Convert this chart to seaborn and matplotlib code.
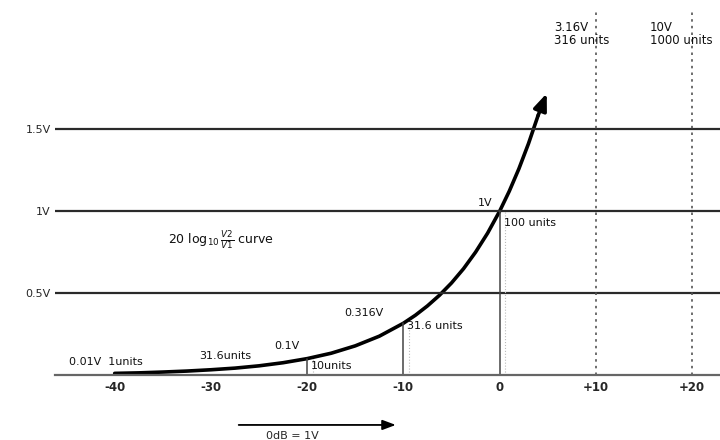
import numpy as np
import pandas as pd
import seaborn as sns
import matplotlib.pyplot as plt

# dB relative to 1 V, and the voltage the curve reaches
curve_db = [-40, -37.5, -35, -32.5, -30, -27.5, -25, -22.5, -20, -17.5, -15,
            -12.5, -10, -8.75, -7.5, -6.25, -5, -3.75, -2.5, -1.25, 0,
            1, 2, 3, 4, 4.9]
curve_volts = [0.010, 0.013, 0.018, 0.024, 0.032, 0.042, 0.056, 0.075, 0.100,
               0.133, 0.178, 0.237, 0.316, 0.365, 0.422, 0.487, 0.562, 0.649,
               0.750, 0.866, 1.000, 1.122, 1.259, 1.413, 1.585, 1.720]

level_volts = [0.5, 1.0, 1.5]
level_labels = ["0.5V", "1V", "1.5V"]

x_ticks = [-40, -30, -20, -10, 0, 10, 20]
x_tick_labels = ["-40", "-30", "-20", "-10", "0", "+10", "+20"]

# short drop lines from the axis up to the curve
drop_db = [-20, -10, 0]
drop_volts = [0.1, 0.316, 1.0]
# dotted markers for points off the chart
far_db = [10, 20]

sns.set_style("white")
plt.rcParams["font.family"] = ["DejaVu Sans"]

fig = plt.figure(figsize=(7.2, 4.4), dpi=100)
ax = fig.add_axes([55 / 720, 65 / 440, 665 / 720, 375 / 440])

df = pd.DataFrame({"dB": curve_db, "V": curve_volts})
sns.lineplot(data=df.iloc[:-1], x="dB", y="V", color="black", lw=2.6,
             ax=ax, sort=False)
ax.annotate("", xy=(curve_db[-1], curve_volts[-1]),
            xytext=(curve_db[-2], curve_volts[-2]),
            arrowprops=dict(arrowstyle="-|>,head_length=1.0,head_width=0.4",
                            color="black", lw=2.6, shrinkA=0, shrinkB=0))

for v in level_volts:
    ax.axhline(v, color="#2a2a2a", lw=1.6)

for d, v in zip(drop_db, drop_volts):
    ax.plot([d, d], [0, v], color="#444444", lw=1.1)
    ax.plot([d + 0.6, d + 0.6], [0, v], color="#bbbbbb", lw=0.8, ls=":")

for d in far_db:
    ax.plot([d, d], [0, 2.22], color="#555555", lw=1.2, ls=(0, (1.5, 2.5)))

ax.set_xlim(-46.2, 22.9)
ax.set_ylim(0, 2.29)
ax.set_xticks(x_ticks)
ax.set_xticklabels(x_tick_labels, fontsize=8.5, fontweight="bold")
ax.set_yticks(level_volts)
ax.set_yticklabels(level_labels, fontsize=8)
ax.tick_params(axis="y", length=0, pad=3)
ax.tick_params(axis="x", length=3, width=1, color="#555555", pad=3,
               direction="inout")
ax.set_xlabel("")
ax.set_ylabel("")
for side in ["top", "right", "left"]:
    ax.spines[side].set_visible(False)
ax.spines["bottom"].set_color("#666666")
ax.spines["bottom"].set_linewidth(1.6)

txt = dict(fontsize=8, color="#111111")
ax.text(-44.7, 0.06, "0.01V  1units", **txt)
ax.text(-31.2, 0.10, "31.6units", **txt)
ax.text(-23.4, 0.16, "0.1V", **txt)
ax.text(-19.6, 0.035, "10units", **txt)
ax.text(-16.1, 0.36, "0.316V", **txt)
ax.text(-9.6, 0.28, "31.6 units", **txt)
ax.text(-2.3, 1.03, "1V", **txt)
ax.text(0.5, 0.91, "100 units", **txt)
ax.text(5.7, 2.02, "3.16V\n316 units", linespacing=1.0, fontsize=8.5,
        color="#111111")
ax.text(15.6, 2.02, "10V\n1000 units", linespacing=1.0, fontsize=8.5,
        color="#111111")
ax.text(-34.5, 0.80, r"20 $\log_{10}\frac{V2}{V1}$ curve", fontsize=9,
        color="#111111")

ax.annotate("", xy=(-10.5, -0.305), xytext=(-27.4, -0.305),
            annotation_clip=False,
            arrowprops=dict(arrowstyle="-|>,head_length=0.8,head_width=0.3",
                            color="black", lw=1.3))
ax.text(-21.5, -0.37, "0dB = 1V", fontsize=8, ha="center", va="center",
        clip_on=False)

fig.savefig("out.png", dpi=100)
